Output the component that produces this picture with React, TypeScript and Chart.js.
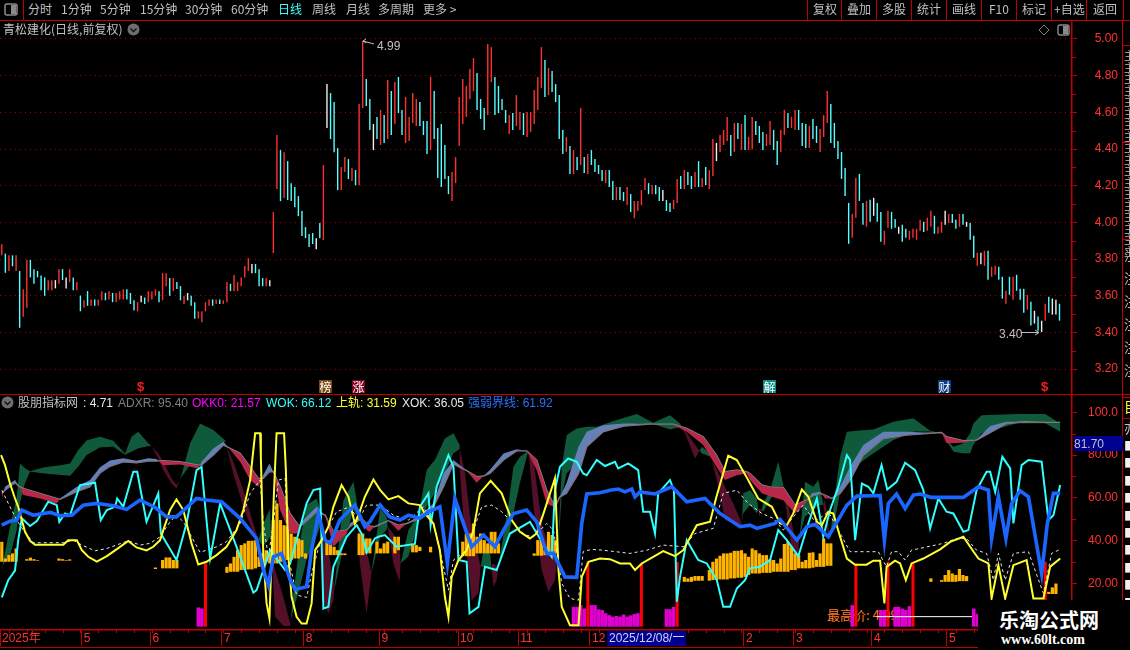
import React, { useEffect, useRef } from "react";
import { Chart, registerables } from "chart.js";

Chart.register(...registerables);

const FONT = '"Liberation Sans","Noto Sans CJK SC",sans-serif';
const CJK = '"Noto Sans CJK SC","Liberation Sans",sans-serif';

// ---------- price panel ----------
const candleHighs = [
  3.88,3.83,3.82,3.82,3.82,3.735,3.635,3.795,3.795,3.745,
  3.735,3.71,3.70,3.685,3.685,3.685,3.745,3.745,3.70,3.745,
  3.70,3.675,3.60,3.575,3.625,3.58,3.58,3.58,3.625,3.615,
  3.625,3.615,3.615,3.625,3.635,3.635,3.615,3.575,3.565,3.60,
  3.59,3.625,3.625,3.635,3.625,3.723,3.723,3.696,3.696,3.675,
  3.652,3.60,3.615,3.60,3.565,3.515,3.515,3.565,3.58,3.58,
  3.58,3.58,3.575,3.675,3.665,3.713,3.675,3.70,3.762,3.805,
  3.773,3.773,3.745,3.696,3.696,3.685,4.056,4.476,4.394,4.383,
  4.334,4.214,4.193,4.143,4.062,3.974,3.936,3.942,3.914,3.996,
  4.313,4.754,4.705,4.656,4.405,4.302,4.356,4.345,4.296,4.285,
  4.645,4.99,4.782,4.673,4.536,4.575,4.613,4.585,4.776,4.716,
  4.765,4.793,4.613,4.684,4.575,4.705,4.673,4.656,4.553,4.553,
  4.793,4.716,4.514,4.536,4.422,4.253,4.274,4.356,4.684,4.782,
  4.744,4.836,4.896,4.814,4.673,4.624,4.973,4.956,4.793,4.744,
  4.673,4.613,4.585,4.596,4.694,4.602,4.596,4.602,4.602,4.722,
  4.793,4.956,4.885,4.842,4.825,4.754,4.694,4.504,4.465,4.416,
  4.394,4.356,4.624,4.356,4.373,4.394,4.345,4.313,4.285,4.285,
  4.285,4.225,4.193,4.193,4.165,4.193,4.154,4.116,4.116,4.176,
  4.242,4.214,4.204,4.204,4.193,4.176,4.122,4.105,4.122,4.236,
  4.253,4.285,4.274,4.253,4.274,4.334,4.242,4.302,4.285,4.454,
  4.433,4.476,4.504,4.575,4.477,4.542,4.542,4.536,4.585,4.466,
  4.575,4.553,4.526,4.493,4.482,4.553,4.504,4.444,4.504,4.613,
  4.596,4.575,4.613,4.613,4.542,4.536,4.526,4.564,4.526,4.509,
  4.585,4.716,4.645,4.542,4.444,4.384,4.297,4.106,4.046,4.242,
  4.264,4.106,4.117,4.123,4.134,4.106,4.057,3.954,4.063,4.057,
  4.019,3.976,3.987,3.965,3.954,3.965,3.965,4.014,4.003,4.025,
  4.063,4.036,3.976,4.003,4.063,4.046,4.046,4.014,4.046,4.046,
  4.003,3.997,3.927,3.834,3.834,3.845,3.845,3.758,3.763,3.758,
  3.703,3.627,3.703,3.703,3.714,3.638,3.638,3.605,3.567,3.518,
  3.486,3.464,3.556,3.595,3.584,3.578,3.556,
];
const candleLows = [
  3.82,3.725,3.735,3.76,3.735,3.425,3.485,3.535,3.70,3.665,
  3.70,3.63,3.60,3.63,3.63,3.64,3.665,3.685,3.64,3.675,
  3.63,3.63,3.515,3.535,3.545,3.545,3.545,3.545,3.575,3.575,
  3.58,3.565,3.565,3.58,3.58,3.58,3.555,3.52,3.515,3.565,
  3.555,3.565,3.58,3.60,3.565,3.575,3.652,3.60,3.625,3.636,
  3.575,3.555,3.575,3.545,3.475,3.475,3.455,3.515,3.545,3.545,
  3.555,3.555,3.555,3.565,3.625,3.625,3.625,3.652,3.70,3.735,
  3.723,3.723,3.652,3.652,3.652,3.652,3.833,4.182,4.116,4.133,
  4.122,4.116,4.083,4.034,3.925,3.914,3.865,3.882,3.854,3.914,
  3.904,4.514,4.454,4.383,4.176,4.176,4.274,4.236,4.225,4.203,
  4.203,4.624,4.634,4.504,4.394,4.454,4.422,4.433,4.454,4.476,
  4.536,4.596,4.476,4.433,4.444,4.542,4.525,4.525,4.476,4.373,
  4.394,4.454,4.242,4.193,4.236,4.154,4.116,4.214,4.416,4.536,
  4.575,4.673,4.716,4.613,4.564,4.504,4.585,4.765,4.585,4.596,
  4.613,4.542,4.482,4.504,4.525,4.504,4.476,4.465,4.493,4.536,
  4.613,4.733,4.684,4.694,4.711,4.656,4.454,4.373,4.384,4.264,
  4.264,4.285,4.313,4.269,4.264,4.313,4.274,4.264,4.225,4.214,
  4.193,4.122,4.122,4.122,4.116,4.094,4.056,4.023,4.062,4.094,
  4.176,4.154,4.154,4.154,4.116,4.116,4.062,4.056,4.073,4.105,
  4.182,4.182,4.204,4.182,4.193,4.193,4.193,4.204,4.182,4.253,
  4.334,4.384,4.422,4.444,4.362,4.384,4.455,4.395,4.395,4.395,
  4.397,4.477,4.433,4.395,4.417,4.422,4.395,4.313,4.384,4.477,
  4.515,4.515,4.504,4.504,4.417,4.406,4.406,4.455,4.433,4.384,
  4.466,4.542,4.433,4.406,4.346,4.237,4.144,3.883,3.916,4.025,
  4.117,3.987,3.976,4.003,4.036,4.003,3.894,3.878,3.970,3.965,
  3.970,3.938,3.894,3.916,3.905,3.916,3.905,3.954,3.948,3.954,
  3.976,3.938,3.938,3.943,3.987,3.997,3.997,3.965,3.976,3.987,
  3.976,3.905,3.807,3.763,3.772,3.763,3.687,3.703,3.714,3.687,
  3.584,3.556,3.605,3.578,3.627,3.578,3.507,3.524,3.437,3.448,
  3.409,3.402,3.464,3.507,3.497,3.497,3.464,
];
const candleKinds = (
  "RCRCRCRRCC" + "CCCRRWRCWR" + "CRCRCRCRRC" + "RCRRRCCCRW" + "CRRRCRRCRC" +
  "CRWCCRRRRC" + "RCRRCRRRRR" + "WCCCRWRRCR" + "CCCCCCCCWC" + "RWCCCRRCRC" +
  "RRCCWCRCRC" + "RCCRRRRCCC" + "RCCCCCRRRR" + "RRRCCCRRCC" + "CCRCRRCRRR" +
  "RRCRCCCCRC" + "RCRCRCCCCR" + "CCRCCRCRRR" + "RCRCCWCCRR" + "CRCCRCRCRR" +
  "WRRRCRCRCR" + "RCCCRRCCRR" + "CRRCCCRCCR" + "RRCCCCCCRR" + "CCRCWCCRRC" +
  "CWCCRRRRCR" + "RCRRWRCCRC" + "WCCRWRCRRC" + "CRCRCCCRCW" + "CWRCWWC"
).split("");
const candleColors: Record<string, string> = { R: "#ff3030", C: "#54ffff", W: "#f0f0f0" };
const priceMajorTicks = [5.0, 4.8, 4.6, 4.4, 4.2, 4.0, 3.8, 3.6, 3.4, 3.2];
const priceMinorTicks = [4.9, 4.7, 4.5, 4.3, 4.1, 3.9, 3.7, 3.5, 3.3];

// ---------- indicator panel: [bar index, value] ----------
const yellowLine = [
  [-0.2,80],[0.9,75.3],[2.3,66.7],[3.7,59.7],[4.6,55.8],[5.6,49.6],[6.5,44.1],[7.9,39.9],[9.3,38],[11.6,38],[14.4,38],[17.2,38],[18.6,40.2],[21,40.2],[22.4,35.5],[24.2,32.4],[26.6,30.2],[29.4,32.7],[32.1,35.9],[35.4,39.8],[37.7,36.8],[40.5,35.4],[42.4,37.1],[44.3,40.2],[45.2,44.9],[47.1,54.3],[48.9,59.3],[50.8,54.3],[53.1,38.7],[55,28.8],[57.3,30.1],[60.1,33.2],[62.9,37.1],[65.7,44.9],[67.6,54.3],[69.5,68.3],[70.9,90.2],[72.3,90.2],[72.5,79.2],[73.2,32.4],[74.1,10.6],[74.9,3.6],[75.5,32.4],[76.2,63.6],[76.9,90.2],[79,90.2],[79.5,73],[80.2,32.4],[81.1,13.7],[82.5,4.3],[83.9,1.2],[85.3,1.2],[86.7,10.6],[87.7,35.5],[89.5,40.2],[91.4,46.5],[92.8,55.8],[95.1,66],[97,60.5],[98.8,48],[100,52.7],[101.6,60.5],[104,68.6],
  [105.9,63.6],[108.2,59.3],[111,60.8],[113.8,57.4],[117,56.6],[118.4,52.7],[120.8,48],[122.6,35.5],[124,13.7],[125,4.3],[125.9,23],[127.8,30.9],[130.1,35.5],[132,44.9],[133.8,62.1],[136.8,68],[139.9,62.1],[142.7,49.6],[145,44.1],[147.8,41],[149.7,43.4],[151.6,52.7],[154.8,69.1],[155.8,26.2],[156.7,9],[159,0.4],[161.4,0.4],[162.3,23],[164.2,30.1],[167.4,31.6],[170.2,31.3],[173,29.3],[175.8,29.3],[177.2,26.2],[179.1,29.3],[182.3,32.4],[185.1,35.1],[188.4,32.7],[190.7,35.5],[194.5,47.2],[198.2,48.8],[200,60.5],[203.3,79.7],[205.7,77.7],[208.9,68.3],
  [209.4,66.7],[211.7,59.7],[215.5,55.8],[217.8,48],[219.7,47.2],[221.5,52.7],[223.9,63.9],[225.7,60.5],[228.1,48.8],[229.5,47.2],[231.3,53.5],[232.7,52.7],[234.6,41.8],[236.5,31.6],[238.8,28.7],[242,28.7],[243.9,30.6],[245.8,30.6],[247,10.6],[247.6,27.7],[250,30.6],[251.4,29.3],[253,21.5],[254.6,29.3],[257.9,31.6],[262.6,35.9],[265.4,39.4],[269.1,41.8],[271,37.1],[273.3,31.6],[276.1,29.3],[277,12.9],[278.9,28.5],[280.8,12.9],[283.1,28.5],[286.8,30.9],[288.7,12.9],[291.5,12.9],[293.4,27.8],[296.2,31.6],
];
const cyanLine = [
  [0,13.4],[1.8,21.5],[3.7,25.9],[4.6,40.2],[5.6,50.4],[7.9,46.8],[9.8,49.1],[13,58.2],[15.4,56.6],[16.1,48.8],[17.7,52.7],[19.1,51.9],[21.9,66],[26.1,67.1],[27.7,49.6],[29.4,54.3],[31.7,55.8],[32.3,59.7],[34,55.8],[36.8,72.2],[37.9,72.2],[40.5,48.8],[43.8,62.1],[44.5,43.3],[48.9,30.9],[51.7,48],[54.5,73],[55.9,74.5],[58.3,31.6],[61.1,57.4],[65.7,37.1],[70.4,15.6],[71.3,16.8],[75.1,35.5],[79.3,26.2],[80.7,29.3],[85.3,57.4],[87.2,63.6],[89.1,64.4],[90,8.2],[91.4,9],[92.8,27.7],[96.5,41.8],[99.3,47.2],[100.7,43.3],[102.1,34.5],[104.4,41],
  [105.4,41.8],[107.2,42.6],[110.5,37.1],[115.6,38.4],[117,55.8],[119.4,62.1],[120,47.2],[121.7,65.2],[125,80],[126.4,74.5],[127.8,30.9],[130.1,30.1],[130.9,5.9],[133.4,9],[135.2,27.7],[138.5,26.2],[142.2,43.3],[147.8,48.8],[149.7,43.4],[153.9,32.4],[154.8,63.6],[156.2,74.5],[158.5,78.4],[160.9,76.9],[162.7,71.4],[163.7,70.6],[166.5,77.7],[168.8,74.9],[171.6,76.9],[172.5,73.8],[175.3,76.1],[178.1,73],[179.5,53.5],[181.4,53.5],[182.8,43.3],[183.7,62.1],[187,68.3],[188.1,63.6],[188.9,11.4],[189.8,23],[191.7,40.2],[194.9,30.9],[197.3,29.3],[200.1,21.5],[201.9,9],[203.8,9],[205.7,17.6],[208,21.5],
  [209.4,27],[212.2,27.7],[215,30.9],[217.3,44.9],[219.7,40.2],[222.9,32.7],[225.7,48],[228.1,59.7],[229.9,41.8],[231.8,54.3],[234.1,65.2],[236.5,80],[237.4,77.7],[238.8,40.2],[240.7,66.7],[242.5,65.2],[243.9,62.1],[246.2,75.3],[247.8,63.9],[250.4,67.5],[252.8,76.4],[255.6,73],[257.9,63.6],[259.8,45.7],[262.1,59.7],[264.4,53.5],[266.3,52.7],[269.1,44.1],[270.5,44.9],[272.8,63.6],[275.6,72.2],[276.6,72.2],[278,62.8],[280,79.2],[282.2,73.8],[283.1,48],[285.4,75.3],[287.3,77.7],[291,76.9],[292.9,49.6],[294.3,51.9],[296.2,66],
];
const blueLine = [
  [0,47.2],[2.3,49.1],[4.2,49.6],[5.6,54.3],[8.8,51.9],[13.5,53.2],[16.3,51.6],[19.6,51.9],[22.8,56.6],[26.6,57.4],[31.2,56.3],[34.9,54.6],[38.7,59],[42.9,55.5],[46.1,51.1],[48.9,51.1],[54.5,59.7],[57.3,59],[61.5,58.2],[66.7,50.4],[71.3,41],[73.2,26.2],[74.6,19.2],[76,32.4],[78.3,34],[80.7,21.5],[82.1,17.1],[85.3,18.4],[86.7,35.5],[88.6,52.4],[90.5,40.2],[91.9,38.7],[94.6,49.6],[98.8,56.6],[101.6,46.5],
  [103,48.8],[105.9,56.6],[108.6,51.1],[111.4,49.6],[113.8,51.9],[117,50.4],[119.4,53.5],[122.6,55.8],[124.7,29.3],[126.8,59.7],[128.7,50.4],[131.5,37.1],[134.8,42.6],[138,37.1],[140.4,44.9],[143.2,52.7],[146.9,54.3],[149.7,48.8],[152.5,34],[154.4,34],[157.6,23],[160.9,22.8],[162.3,48],[163.7,61.8],[167.4,62.4],[170.2,63.6],[172.5,64.1],[174.4,62.8],[176.3,64.1],[177.2,60.5],[178.6,62.8],[182.8,61.8],[187.5,65.2],[191.7,58.2],[196.8,59.7],[201,52.7],[206.6,46.5],
  [209.4,47.2],[211.3,45.7],[216.4,48],[217.8,49.9],[222.5,40.2],[225.3,46.5],[227.6,47.6],[231.3,41.8],[236.5,56.6],[239.3,60.8],[245.8,61.1],[247,40.2],[248.1,57.4],[250.4,61.8],[252.8,55],[255.1,61.3],[257,61.8],[260.2,60.2],[264.9,60.2],[269.1,60.2],[273.3,65.2],[276.1,63.6],[277,41],[278.9,60.5],[281,41],[282.6,57.4],[285,63.3],[287.3,60.5],[291,24.6],[292.6,48],[294.3,62.1],[296.2,62.1],
];
const whiteLine = [
  [0,63.6],[2.3,55.8],[4.2,49.6],[6,44.9],[8.8,39],[17.2,39],[20,40.2],[22.4,37.9],[26.1,35.2],[29.4,36.3],[35.4,39.9],[38.7,37.9],[41.5,38.7],[44.3,41.8],[47.1,48.8],[48.9,51.9],[50.8,48.8],[53.1,41.8],[55.5,34.5],[60.1,37.1],[62.9,39.5],[66.7,48],[69.5,62.1],[72.3,68.3],[73.2,48],[74.6,32.4],[76,48],[77.4,68.3],[79.3,69.1],[80.2,32.4],[82.5,14.5],[85.3,13.4],[86.7,24.6],[89,38.7],[91.4,46.5],[93.7,53.5],[97.4,55.8],[99.8,49.6],[102.1,56.6],
  [105.9,56.6],[109.6,51.9],[113.8,49.6],[118,55.8],[120.8,48],[122.6,35.5],[125,16.8],[126.4,30.9],[130.1,35.5],[132,44.9],[134.3,55.8],[137.1,56.6],[139.9,53.5],[142.7,48.8],[146.4,42.6],[148.8,41.8],[152.5,48],[154.4,44.9],[156.7,20],[159,12.9],[161.4,12.1],[162.7,34.8],[165.1,35.9],[168.3,35.5],[175.8,34],[180.5,35.5],[185.1,37.9],[190.7,37.1],[194,43.3],[199.1,45.7],[201.9,62.1],[205.7,63.6],[208.9,57.4],
  [212.7,52.7],[215.9,50.4],[218.7,44.9],[221.5,51.1],[224.3,56.6],[227.6,48.8],[231.3,53.5],[234.1,44.9],[237.4,34.8],[245.3,34.8],[247.6,27.7],[249,34.8],[250.9,34.8],[252.8,30.9],[254.6,35.5],[263.5,38.7],[267.2,41],[270,41],[272.8,35.5],[275.6,34],[277.5,21.5],[278.9,34],[280.8,21.5],[283.1,34],[287.3,34.8],[291.5,15.3],[293.8,34],[296.2,35.9],
];
// [bar index, slow line, fast line]
const adxBand = [
  [0,62.1,59.7],[0.9,63.6,65.2],[3.7,67.1,68.3],[4.9,65.2,65.2],[6,64.4,61.3],[10.7,62.1,59.7],[15.4,59.7,57.4],[16.3,59.3,59.7],[21,62.9,65.2],[24.7,65.2,68.3],[27.5,71.7,74.3],[30.3,74.8,77.5],[34,76.9,78.5],[37.7,76.4,77.4],[41,77.2,78.5],[43.3,77.2,78.2],[45.2,77.4,75.3],[49.9,76.9,75.6],[55,75.3,73.7],[55.9,75.3,76.9],[59.2,80,83.1],[62,84.7,86.3],[63.4,83.6,83.6],[66.7,80.8,76.9],[69.5,74.5,68.3],[71.8,69.1,65.2],[73.2,69.1,70.7],[74.9,72.2,76.1],[76,72.2,72.2],[77.9,65.2,54.3],[80.7,52.7,43.3],[83,47.2,43.3],[83.9,47.2,48.8],[88.1,53.5,55.8],[90.5,51.9,51.9],[92.8,44.1,37.1],[96.5,44.9,43.3],[97.4,46.5,48],[100.7,50.4,51.9],[102.1,48,44.9],
  [103,46.8,44.1],[104.4,46.5,46.8],[108.2,49.3,49.3],[111,47.2,44.6],[113.3,48,48],[117,50.4,51.9],[120.8,55.8,57.4],[123.6,65.2,71.4],[126.4,75.8,77.7],[130.1,72.7,72.7],[132.9,69.9,67.1],[134.8,70.2,70.2],[136.6,71.4,73],[140.4,77.7,80.8],[144.1,82,82.7],[146.9,82,82],[149.7,77.7,73],[152.5,63.6,57.4],[154.8,55.8,55.5],[156.2,60.5,60.5],[158,62.1,66.7],[161.4,71.4,83.9],[163.7,83.9,90.9],[168.3,90.9,94],[174,93.6,94.8],[181.4,94.5,94.8],[182.3,94.5,94.5],[187.9,94.5,94.2],[191.7,92.5,90.9],[196.3,88.6,84.7],[200,80,74.5],[202.4,72.2,68.3],[205.7,73,70.6],[208.5,72.2,71.4],
  [209.4,71.4,68.3],[212.7,66,62.1],[215.5,64.9,60.5],[218.7,64.9,58.9],[222,56.6,52.7],[225.3,59,58.2],[226.7,60.8,62.1],[229,62.1,62.9],[230.4,61.3,59.7],[232.3,59.7,59.7],[234.6,62.1,65.2],[237.4,68.3,74.5],[241.1,80,84.7],[246.7,87.8,90.9],[253.2,89.4,90.9],[259.8,90.2,90.5],[263,90.6,90.6],[264.4,88.6,85.5],[269.1,86.7,85.8],[272.8,87,87.3],[276.6,90.5,93.6],[281.2,94.8,95.6],[286.4,95.6,95.6],[292,95.3,95.1],[296.2,95.3,95.3],
];
// [bar index, line P, line Q]
const okBand = [
  [0,21.5,29.3],[0.2,28.5,28.5],[2.3,46.5,32.4],[4.2,60.5,44.9],[5.1,76.1,57.4],[6.5,73.8,66.7],[7.9,72.5,72.2],[11.6,74.2,71.4],[16.3,75.3,70.7],[19.1,76.1,70.2],[21.4,82.4,74.5],[23.8,87,80],[27.5,88.6,83.6],[31.2,86.7,83.9],[34.5,80.8,80],[36.3,88.6,81.6],[38.2,90.9,83.1],[41,85.5,84.2],[41.9,84.2,84.2],[43.8,78.4,80.8],[45.2,73,76.9],[47.5,66.7,69.1],[48.9,64.4,66],[50.3,70.7,69.6],[52.7,85.5,75.3],[55.5,94.8,75.3],[59.2,91.7,80.8],[62.5,87,86.3],[62.9,83.9,83.9],[64.8,71.4,76.9],[67.6,55.8,63.6],[70.4,43.3,48],[71.8,40.2,40.2],[73.2,48,37.1],[75.1,55,41.8],[75.5,32.4,32.4],[76.5,4.3,26.2],[78.8,0,13.7],[80.7,0,1.2],[81.6,15.3,7.5],[83.5,40.2,18.4],[85.3,56.6,30.9],[88.1,59.7,41.8],[89.5,52.7,48],[89.8,44.9,44.9],[90,12.1,40.2],[91.4,5.9,35.5],[92.8,12.1,21.5],[93.3,21.5,18.4],[95.6,58.9,37.1],[98.4,67.5,54.3],[99.3,58.9,51.9],[99.6,48,48],[100.2,29.3,44.9],[102.1,5.9,35.5],
  [103.5,25.4,24.6],[105.9,55,41.8],[107.7,51.1,44.9],[108,46.5,46.5],[109.6,29.3,43.3],[111.3,20.7,37.1],[111.6,29.3,29.3],[113.8,44.9,32.4],[116.6,51.9,48],[118.9,73,55.8],[121.2,77.7,62.1],[124,87.8,71.4],[126.4,90.2,80.8],[128.1,84.7,82.7],[128.2,72.2,82.4],[129.6,41.8,72.2],[131.5,12.1,44.9],[133.4,15.3,32.4],[134,27.7,27.7],[134.8,35.5,27.7],[136.4,38.7,27],[137.6,18.4,29.3],[138.5,21.5,27.7],[139.4,32.4,30.9],[141.8,57.4,41.8],[143.2,74.5,52.7],[145,79.2,66.7],[147.4,82,82],[148.8,55.8,77.7],[151.1,26.2,48],[153,16,37.1],[154.8,21.5,35.5],[155.6,34,32.4],[156.7,74.5,60.5],[158.1,89.4,71.4],[160.9,92.5,76.1],[163.7,93.3,83.9],[166.5,93.3,90.2],[172.1,96.4,92.5],[177.7,99.2,94.8],[182.3,95.1,94.5],[187,98.7,92],[189.8,94.8,93],[191.2,90.2,91.7],[194,78.4,84.7],[195.9,83.9,80.8],[198.2,80.8,79.2],[200.1,68.3,73],[202.4,49.6,65.2],[204.7,48,57.4],[207.1,47.2,48],[207.5,62.1,52.7],[209.4,63.6,56.6],
  [211.3,59.7,52.7],[212,51.1,55],[213.1,57.4,53.5],[215,63.6,58.9],[217.3,76.9,65.2],[218.7,66,65.2],[219.2,58.9,64.4],[221.1,35.5,48],[222.3,24.6,38.7],[223.4,44.1,42.6],[224.8,67.5,51.1],[227.1,65.2,54.3],[228.5,68.3,56.6],[229.7,58.9,56.6],[230.4,51.1,58.9],[231.3,41.8,48],[231.8,41.8,40.2],[233.2,62.1,49.6],[234.6,79.2,62.1],[236.5,90.9,69.1],[239.3,91.4,75.3],[243.9,92,80.8],[249.5,95.6,87],[255.1,97.2,90.9],[259.8,91.4,90.9],[263,90.2,90.2],[266.3,83.9,81.6],[269.1,85.5,80.8],[271,90.2,80.8],[271.9,94.8,84.7],[274.2,98.7,90.2],[284,99.2,94.8],[292,99.2,94.8],[296.2,94.8,90.9],
];
// [bar index, low, high]
const orangeBars = [
  [0,30.1,39.4],[1,30.1,31.6],[2,30.1,33.2],[3,30.1,34],[4,30.1,36.3],[7,30.6,31.3],[8,30.6,32],[9,30.6,31.3],[10,30.6,30.9],[16,30.6,31.6],[17,30.6,31.3],[18,30.6,30.9],[19,30.6,31.2],[43,26.7,27.4],[45,27,30.9],[46,27,32.1],[47,27,32.1],[48,27,30.9],[49,27,30.9],[63,24.9,27.7],[64,25.4,29.3],[65,25.4,32.4],[66,25.4,35.5],[67,26.2,37.9],[68,26.2,38.7],[69,26.5,39.9],[70,26.5,39.9],[71,27,40.2],[72,27.7,32.4],[73,28,34],[74,30.1,35.5],[75,29.3,34],[76,29.3,49.6],[77,29.3,57.4],[78,30.1,49.6],[79,30.1,47.2],[80,30.9,46.5],[81,30.9,43.3],[82,31.6,41.8],[83,31.6,41],[84,32.4,40.2],[85,31.6,34],[91,33.2,40.2],[92,33.2,40.2],[93,33.2,37.1],[94,33.2,35.5],[95,33.2,34],[96,33.2,34],[100,33.2,43.3],[101,33.2,43.3],[102,34,41],[103,34,41],
  [105,34,39.5],[106,34,36.3],[107,34,38.7],[108,34,39.5],[110,34,41.8],[111,35.5,41.8],[115,34.5,37.9],[116,34.5,37.9],[117,35.1,37.1],[120,34.5,37.1],[129,32.7,39.5],[130,32.7,43.3],[131,32.7,43.3],[132,32.7,48],[133,34,41.8],[134,34,43.3],[135,34,40.2],[136,34,38.7],[137,34,44.1],[138,34,44.1],[139,34,38.7],[149,32.9,34],[150,32.9,40.2],[151,32.9,40.2],[152,33.2,35.5],[153,33.2,44.1],[154,33.2,42.6],[155,34,40.2],[191,20.7,23],[192,20.7,22.3],[193,20.7,23],[194,21.2,23.4],[195,21.2,23.4],[196,21.2,23.4],[198,21.2,26.2],[199,21.5,30.1],[200,21.5,31.6],[201,21.8,32.9],[202,21.8,34],[203,21.8,34],[204,22.3,34.3],[205,22.3,35.2],[206,22.6,35.2],[207,22.6,35.5],[208,23,34],[209,23.9,32.4],
  [210,24.6,36.3],[211,24.6,35.5],[212,24.6,34],[213,24.9,33.2],[214,24.9,33.2],[215,24.9,31.2],[216,25.4,30.9],[217,25.4,29.3],[218,25.4,31.6],[219,25.4,38.4],[220,25.4,39.5],[221,26.2,37.1],[222,26.2,34],[223,27,33.2],[224,27,30.1],[225,27,30.9],[226,27,34.3],[227,27.3,34.5],[228,27.7,30.9],[229,27.7,34],[230,27.7,41],[231,28.2,38.7],[232,28.2,38.7],[260,20.7,22.3],[263,20.7,21.5],[264,20.7,23.9],[265,20.7,26.2],[266,20.7,24.6],[267,20.7,23.9],[268,21,26.7],[269,21,23.9],[270,21,23.4],[293,15,16],[294,15,18.1],[295,15,19.9],
];
// [bar index, top]
const magentaBars = [
  [55,8.7],[56,8.2],[160,9],[161,9],[162,9.8],[163,8.2],[165,9.8],[166,9.8],[167,7.8],[168,7.5],[169,6],[170,5.1],[171,4.4],[172,4.7],[173,4.4],[174,5.4],[175,4.4],[176,5],[177,5.6],[178,6],[186,7.9],[187,7.9],[188,9],[238,9.8],[246,7.5],[247,7.5],[250,9],[251,9],[252,8.2],[253,7.5],[254,9.3],[272,8.2],[273,5.6],
];
const redSticks = [
  [57,29.3],[164,30.1],[179,29.3],[189,30],[239,29.3],[248,30.1],[255,29.3],[292,30.1],
];
const highPriceGuide = [[244.8,4.4],[271.5,4.4]];
const indicatorTicks = [100, 80, 60, 40, 20];
const indicatorTickLabels = ["100.0", "80.00", "60.00", "40.00", "20.00"];
const indicatorMinorTicks = [90, 70, 50, 30];
const monthTicks = [-0.5,22.4,41.6,61.6,84.5,105.7,127.7,144.5,164.6,207.7,221.7,243.5,264.5];
const monthLabels = ["2025年","5","6","7","8","9","10","11","12","2","3","4","5"];

const toolbarLeft: [string, number, string?][] = [
  ["分时",28],["1分钟",61],["5分钟",100],["15分钟",140],["30分钟",185],["60分钟",231],
  ["日线",278,"#40ffff"],["周线",312],["月线",346],["多周期",378],["更多 >",423],
];
const toolbarRight: [string, number][] = [
  ["复权",813],["叠加",847],["多股",882],["统计",917],["画线",952],["F10",989],["标记",1022],["+自选",1054],["返回",1093],
];
const toolbarSeparators = [807,841,876,911,946,981,1016,1051,1086,1123];
const legendItems: [string, number, string][] = [
  ["股朋指标网",18,"#c0c0c0"],[": 4.71",83,"#e8e8e8"],["ADXR: 95.40",118,"#808080"],["OKK0: 21.57",192,"#ff00ff"],
  ["WOK: 66.12",266,"#30ffff"],["上轨: 31.59",336,"#ffff30"],["XOK: 36.05",402,"#e8e8e8"],["强弱界线: 61.92",468,"#2a70ff"],
];
const badgeMarks: [string, number, string][] = [["榜",319,"#7a4a10"],["涨",352,"#800020"],["解",763,"#0a8a80"],["财",938,"#0a3a80"]];
const dollarMarks = [137, 1041];

const RED = "#c00000";
const pts = (rows: number[][], col = 1) => rows.map((r) => ({ x: r[0], y: r[col] }));

function marks(yMinor: number[], xMinor: number[]) {
  return {
    id: "minorMarks",
    afterDraw(chart: any) {
      const { ctx, chartArea } = chart;
      ctx.save();
      ctx.strokeStyle = RED;
      ctx.lineWidth = 1;
      for (const v of yMinor) {
        const p = Math.round(chart.scales.y.getPixelForValue(v)) + 0.5;
        ctx.beginPath(); ctx.moveTo(chartArea.right, p); ctx.lineTo(chartArea.right + 4, p); ctx.stroke();
      }
      for (const v of xMinor) {
        const p = Math.round(chart.scales.x.getPixelForValue(v)) + 0.5;
        ctx.beginPath(); ctx.moveTo(p, chartArea.bottom); ctx.lineTo(p, chartArea.bottom + 3); ctx.stroke();
      }
      ctx.restore();
    },
  };
}

const Txt = ({ x, y, c = "#c0c0c0", s = 12, f = CJK, w, children }: any) => (
  <span style={{ position: "absolute", left: x, top: y, color: c, fontSize: s, fontFamily: f, fontWeight: w, lineHeight: "16px", whiteSpace: "nowrap" }}>{children}</span>
);
const Box = ({ x, y, w, h, c = RED, z }: any) => (
  <div style={{ position: "absolute", left: x, top: y, width: w, height: h, background: c, zIndex: z }} />
);
const Chevron = ({ x, y }: any) => (
  <svg style={{ position: "absolute", left: x, top: y }} width="13" height="13">
    <circle cx="6.5" cy="6.5" r="6" fill="#6e6e6e" />
    <path d="M3.5 5.5 L6.5 8.5 L9.5 5.5" stroke="#111" strokeWidth="1.4" fill="none" />
  </svg>
);

export default function App() {
  const topRef = useRef<HTMLCanvasElement>(null);
  const botRef = useRef<HTMLCanvasElement>(null);

  useEffect(() => {
    const flushY = (s: any) => { s.width = 46; s.paddingTop = 0; s.paddingBottom = 0; };

    const top = new Chart(topRef.current!, {
      type: "bar",
      data: {
        labels: Array.from({ length: 300 }, (_, i) => String(i)),
        datasets: [{
          data: candleHighs.map((h, i) => [candleLows[i], h]) as any,
          backgroundColor: candleKinds.map((k) => candleColors[k]),
          barThickness: 1.4,
          inflateAmount: 0,
          borderWidth: 0,
        }],
      },
      plugins: [marks(priceMinorTicks, [])],
      options: {
        responsive: false, animation: false,
        layout: { padding: 0 },
        plugins: { legend: { display: false }, tooltip: { enabled: false } },
        scales: {
          x: { display: false },
          y: {
            position: "right", min: 3.064, max: 5.1036,
            afterBuildTicks: (s: any) => { s.ticks = priceMajorTicks.map((value) => ({ value })); },
            afterFit: flushY,
            border: { color: RED, width: 1.5, dash: [1, 4] },
            grid: { color: "#a00000", lineWidth: 1, tickColor: RED, tickLength: 5, tickBorderDash: [] },
            ticks: { color: "#ff3232", font: { family: FONT, size: 12 }, crossAlign: "far", padding: 0, callback: (v: any) => Number(v).toFixed(2), autoSkip: false },
          },
        },
      },
    } as any);

    const line = (data: any[], color: string, width: number, order: number, extra: any = {}) => ({
      type: "line", data, borderColor: color, borderWidth: width, pointRadius: 0, tension: 0, fill: false, order, ...extra,
    });
    const bar = (data: any[], color: string, thick: number, order: number, extra: any = {}) => ({
      type: "bar", data, backgroundColor: color, barThickness: thick, grouped: false, inflateAmount: 0, borderWidth: 0, order, ...extra,
    });

    const bot = new Chart(botRef.current!, {
      data: {
        datasets: [
          line(pts(okBand, 2), "transparent", 0, 20),
          line(pts(okBand, 1), "transparent", 0, 19, { fill: { target: 0, above: "#0f5a3a", below: "#560f28" } }),
          bar(orangeBars.map((r) => ({ x: r[0], y: [r[1], r[2]] })), "#ffb400", 3.2, 18),
          line(pts(adxBand, 1), "#808080", 1.4, 17),
          line(pts(adxBand, 2), "transparent", 0, 16, { fill: { target: 3, above: "#6480b4", below: "#b82848" } }),
          bar(magentaBars.map((r) => ({ x: r[0], y: [-0.3, r[1]] })), "#e000d0", 3.6, 15),
          bar(redSticks.map((r) => ({ x: r[0], y: [-0.3, r[1]] })), "#ff0000", 3, 14),
          line(pts(highPriceGuide), "#ffffff", 1, 13),
          line(pts(whiteLine), "#e8e8e8", 1, 12, { borderDash: [3, 3] }),
          line(pts(cyanLine), "#30ffff", 2, 11),
          line(pts(yellowLine), "#ffff30", 2, 10),
          line(pts(blueLine), "#1a66ff", 3.6, 9),
        ],
      },
      plugins: [marks(indicatorMinorTicks, Array.from({ length: 55 }, (_, k) => k * 5 + 2))],
      options: {
        responsive: false, animation: false,
        layout: { padding: 0 },
        plugins: { legend: { display: false }, tooltip: { enabled: false } },
        scales: {
          x: {
            type: "linear", min: -0.5, max: 299.5, offset: false,
            afterBuildTicks: (s: any) => { s.ticks = monthTicks.map((value) => ({ value })); },
            afterFit: (s: any) => { s.height = 18; s.paddingLeft = 0; s.paddingRight = 0; },
            border: { color: RED, width: 1.5 },
            grid: { drawOnChartArea: false, offset: false, tickColor: RED, tickLength: 16 },
            ticks: {
              color: "#ff3232", font: { family: FONT, size: 12 }, align: "start", padding: -15, labelOffset: 2, maxRotation: 0, autoSkip: false, includeBounds: false,
              callback: (v: any) => { const i = monthTicks.indexOf(Number(v)); return i >= 0 ? monthLabels[i] : ""; },
            },
          },
          y: {
            position: "right", min: -1.85, max: 108.6,
            afterBuildTicks: (s: any) => { s.ticks = indicatorTicks.map((value) => ({ value })); },
            afterFit: flushY,
            border: { color: RED, width: 1.5 },
            grid: { drawOnChartArea: false, tickColor: RED, tickLength: 5 },
            ticks: {
              color: "#ff3232", font: { family: FONT, size: 12 }, crossAlign: "far", padding: 0, autoSkip: false,
              callback: (v: any) => indicatorTickLabels[indicatorTicks.indexOf(Number(v))] ?? "",
            },
          },
        },
      },
    } as any);

    return () => { top.destroy(); bot.destroy(); };
  }, []);

  return (
    <div style={{ position: "fixed", left: 0, top: 0, width: 1130, height: 650, background: "#000", overflow: "hidden" }}>
      {/* text lying behind the indicator's bars */}
      <Txt x={827} y={607} c="#ff7a20" s={13}>最高价: 4.99</Txt>

      <canvas ref={topRef} width={1118} height={374} style={{ position: "absolute", left: 0, top: 20, display: "block" }} />
      <canvas ref={botRef} width={1118} height={254} style={{ position: "absolute", left: 0, top: 394, display: "block" }} />

      {/* toolbar */}
      <Box x={0} y={20} w={1130} h={1.2} />
      <Box x={23} y={0} w={1} h={20} />
      <svg style={{ position: "absolute", left: 4, top: 3 }} width="15" height="14">
        <rect x="1" y="1" width="12" height="11" rx="2" fill="none" stroke="#8a8a8a" strokeWidth="1.5" />
        <rect x="7" y="2" width="5" height="9" fill="#8a8a8a" />
      </svg>
      {toolbarLeft.map(([t, x, c]) => <Txt key={t} x={x} y={1} c={c ?? "#c0c0c0"}>{t}</Txt>)}
      {toolbarRight.map(([t, x]) => <Txt key={t} x={x} y={1}>{t}</Txt>)}
      {toolbarSeparators.map((x) => <Box key={x} x={x} y={0} w={1} h={20} />)}

      {/* price panel captions */}
      <Txt x={3} y={21}>青松建化(日线,前复权)</Txt>
      <Chevron x={127} y={23} />
      <svg style={{ position: "absolute", left: 1038, top: 24 }} width="12" height="12">
        <path d="M6 1 L11 6 L6 11 L1 6 Z" stroke="#808080" fill="none" />
      </svg>
      <svg style={{ position: "absolute", left: 1057, top: 24 }} width="13" height="13">
        <rect x="1" y="1" width="11" height="10" rx="2" fill="none" stroke="#8a8a8a" strokeWidth="1.4" />
        <rect x="6" y="2" width="5" height="8" fill="#8a8a8a" />
      </svg>
      <Txt x={377} y={38} f={FONT}>4.99</Txt>
      <svg style={{ position: "absolute", left: 360, top: 38 }} width="16" height="10">
        <path d="M3 3 L14 6 M3 3 L6 1 M3 3 L6 5" stroke="#c0c0c0" fill="none" />
      </svg>
      <Txt x={999} y={326} f={FONT}>3.40</Txt>
      <svg style={{ position: "absolute", left: 1021, top: 328 }} width="20" height="10">
        <path d="M0 4.5 L18 4.5 M18 4.5 L14 2 M18 4.5 L14 7" stroke="#c0c0c0" fill="none" />
      </svg>
      <span style={{ position: "absolute", left: dollarMarks[0], top: 379, color: "#ff1a1a", fontSize: 13, fontWeight: 700, fontFamily: FONT, lineHeight: "15px" }}>$</span>
      <span style={{ position: "absolute", left: dollarMarks[1], top: 379, color: "#ff1a1a", fontSize: 13, fontWeight: 700, fontFamily: FONT, lineHeight: "15px" }}>$</span>
      {badgeMarks.map(([t, x, c]) => (
        <span key={t} style={{ position: "absolute", left: x, top: 380, width: 13, height: 13, background: c, color: "#fff", fontSize: 12, lineHeight: "13px", textAlign: "center", fontFamily: CJK }}>{t}</span>
      ))}

      {/* panel frame */}
      <Box x={0} y={393.5} w={1130} h={1.3} />
      <Box x={1122} y={20} w={1.3} h={610} />
      <Box x={0} y={646.5} w={980} h={1.2} />

      {/* indicator legend */}
      <Chevron x={1} y={396} />
      {legendItems.map(([t, x, c]) => <Txt key={t} x={x} y={395} c={c} f={FONT}>{t}</Txt>)}
      <div style={{ position: "absolute", left: 1074, top: 436, width: 48.5, height: 15, background: "#000090" }}>
        <Txt x={0} y={0} f={FONT}>81.70</Txt>
      </div>

      {/* date cursor */}
      <div style={{ position: "absolute", left: 607, top: 631, width: 79, height: 15, background: "#000090" }}>
        <Txt x={2} y={-1} c="#d0d0ff" f={FONT}>2025/12/08/一</Txt>
      </div>

      {/* right edge, a table that the window cuts off */}
      <div style={{ position: "absolute", left: 1124, top: 22, width: 6, height: 580, overflow: "hidden" }}>
        {Array.from({ length: 18 }, (_, k) => <Txt key={k} x={0} y={25 + k * 11.5} s={11}>主</Txt>)}
        {Array.from({ length: 6 }, (_, k) => <Txt key={k} x={0} y={225 + k * 23} s={13}>注</Txt>)}
        <Txt x={0} y={376} c="#ffff30" s={14}>目</Txt>
        <Txt x={0} y={398} s={13}>亦</Txt>
        {Array.from({ length: 10 }, (_, k) => <Txt key={k} x={0} y={416 + k * 17.4} c="#f0f0f0" s={12} w={700}>■</Txt>)}
      </div>
      <Box x={1123} y={45} w={7} h={1} />
      <Box x={1123} y={142} w={7} h={1} />
      <Box x={1123} y={239} w={7} h={1} />
      <Box x={1123} y={397} w={7} h={1} />
      <Box x={1123} y={418} w={7} h={1} />

      {/* watermark */}
      <div style={{ position: "absolute", left: 978, top: 600, width: 152, height: 50, background: "#000" }} />
      <Txt x={999} y={610} c="#fff" s={20} w={700}><span style={{ lineHeight: "20px" }}>乐淘公式网</span></Txt>
      <Txt x={1001} y={632} c="#fff" s={14} w={700} f='"Liberation Serif",serif'>www.60lt.com</Txt>
    </div>
  );
}
